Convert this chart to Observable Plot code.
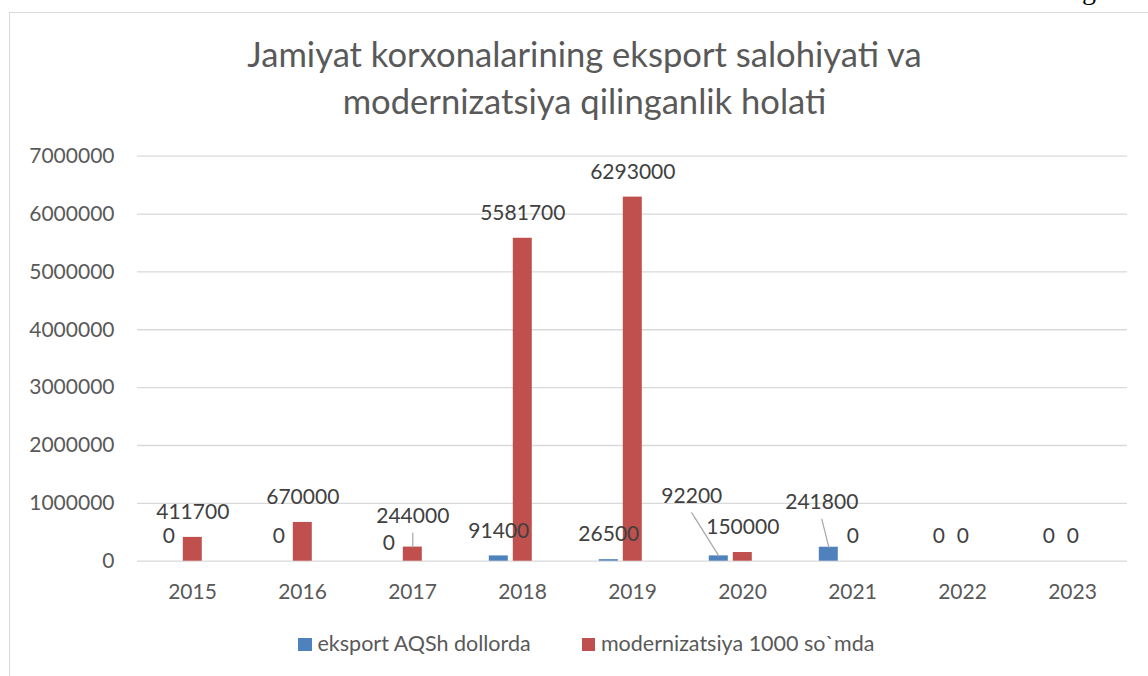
<!DOCTYPE html>
<html>
<head>
<meta charset="utf-8">
<script src="https://cdn.jsdelivr.net/npm/d3@7"></script>
<script src="https://cdn.jsdelivr.net/npm/@observablehq/plot@0.6"></script>
<style>
  html, body { margin: 0; padding: 0; background: #fff; }
  #wrap { position: relative; width: 1148px; height: 676px; overflow: hidden; font-family: Lato, "Liberation Sans", sans-serif; }
  #frame { position: absolute; left: 9px; top: 12px; width: 1300px; height: 800px; border: 1px solid #d9d9d9; box-sizing: border-box; }
  #pagetext { position: absolute; left: 1082px; top: -24.4px; font-family: "Liberation Serif", serif; font-size: 28px; line-height: 28px; color: #000; }
  #title { position: absolute; left: 84.5px; width: 1000px; top: 30.1px; text-align: center; font-size: 34.6px; line-height: 47px; color: #595959; white-space: nowrap; }
  #chart { position: absolute; left: 0; top: 0; }
  .lg-sw { position: absolute; width: 13.5px; height: 13.5px; }
  .lg-tx { position: absolute; font-size: 21.5px; line-height: 26px; color: #595959; white-space: nowrap; }
</style>
</head>
<body>
<div id="wrap">
  <div id="frame"></div>
  <div id="pagetext">g</div>
  <div id="title"></div>
  <div id="chart"></div>
  <div id="legend"></div>
</div>
<script>
// ---- data ----
const titleLines = ["Jamiyat korxonalarining eksport salohiyati va", "modernizatsiya qilinganlik holati"];
const years = ["2015", "2016", "2017", "2018", "2019", "2020", "2021", "2022", "2023"];
const seriesNames = ["eksport AQSh dollorda", "modernizatsiya 1000 so`mda"];
const eksport = [0, 0, 0, 91400, 26500, 92200, 241800, 0, 0];
const modernizatsiya = [411700, 670000, 244000, 5581700, 6293000, 150000, 0, 0, 0];
const yTicks = [0, 1000000, 2000000, 3000000, 4000000, 5000000, 6000000, 7000000];
const seriesColors = ["#4f81bd", "#c0504d"];

// labels that were dragged away from their bars (pixel nudges), some with leader lines
const labelNudges = [
  { year: "2017", series: seriesNames[0], dx: 0, dy: -18, leader: false },
  { year: "2017", series: seriesNames[1], dx: 0, dy: -31, leader: true },
  { year: "2020", series: seriesNames[0], dx: -27, dy: -60, leader: true },
  { year: "2021", series: seriesNames[0], dx: -7, dy: -45, leader: true }
];

// ---- build table ----
const rows = years.flatMap((y, i) => [
  { year: y, series: seriesNames[0], value: eksport[i] },
  { year: y, series: seriesNames[1], value: modernizatsiya[i] }
]);
const nudgeOf = d => labelNudges.find(n => n.year === d.year && n.series === d.series);

// title
document.getElementById("title").innerHTML = titleLines.map(t => `<div>${t}</div>`).join("");

const lineShape = { draw(context, l) { context.moveTo(0, 0); context.lineTo(0, -l); } };

const labelFont = 21;
const marks = [
  Plot.ruleY(yTicks, { stroke: "#d9d9d9", strokeWidth: 1.3 }),
  Plot.axisY({ ticks: yTicks, tickFormat: d => String(d), tickSize: 0, tickPadding: 23, fontSize: labelFont, label: null }),
  Plot.axisFx({ anchor: "bottom", tickSize: 0, tickPadding: 23, fontSize: labelFont, label: null }),
  Plot.barY(rows, { fx: "year", x: "series", y: "value", fill: "series" }),
  Plot.text(rows.filter(d => !nudgeOf(d)), {
    fx: "year", x: "series", y: "value", text: d => String(d.value),
    dy: -25, fontSize: labelFont, fill: "#404040"
  })
];
for (const n of labelNudges) {
  const sel = rows.filter(d => nudgeOf(d) === n);
  marks.push(Plot.text(sel, {
    fx: "year", x: "series", y: "value", text: d => String(d.value),
    dx: n.dx, dy: n.dy, fontSize: labelFont, fill: "#404040"
  }));
  if (n.leader) {
    const ex = n.dx, ey = n.dy + 17;
    const len = Math.hypot(ex, ey);
    const rot = Math.atan2(ex, -ey) * 180 / Math.PI;
    marks.push(Plot.vector(sel, {
      fx: "year", x: "series", y: "value", anchor: "start",
      length: len, rotate: rot, shape: lineShape,
      stroke: "#a6a6a6", strokeWidth: 1.2
    }));
  }
}

const chart = Plot.plot({
  width: 1148,
  height: 676,
  marginLeft: 134.2,
  marginRight: 18,
  marginTop: 155.7,
  marginBottom: 115.3,
  style: { fontFamily: "Lato, 'Liberation Sans', sans-serif", background: "transparent", color: "#595959", overflow: "visible" },
  fx: { domain: years, padding: 0, label: null },
  x: { domain: [seriesNames[0], seriesNames[1], "-"], paddingInner: 0.22, paddingOuter: 0.823, axis: null },
  y: { domain: [0, 7000000], axis: null },
  color: { domain: seriesNames, range: seriesColors },
  marks
});
document.getElementById("chart").appendChild(chart);

// legend
const legend = document.getElementById("legend");
const legendX = [298.3, 581.7];
seriesNames.forEach((s, i) => {
  const sw = document.createElement("div");
  sw.className = "lg-sw";
  sw.style.left = legendX[i] + "px";
  sw.style.top = "637.7px";
  sw.style.background = seriesColors[i];
  legend.appendChild(sw);
  const tx = document.createElement("div");
  tx.className = "lg-tx";
  tx.style.left = (legendX[i] + 19.2) + "px";
  tx.style.top = "630.4px";
  tx.textContent = s;
  legend.appendChild(tx);
});
</script>
</body>
</html>
